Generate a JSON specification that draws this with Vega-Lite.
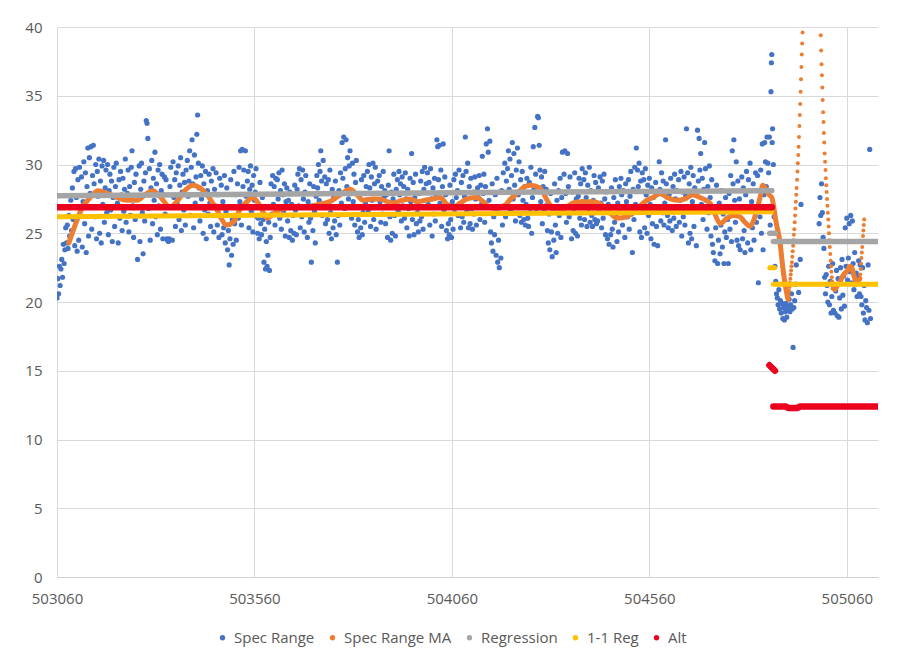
{
  "$schema": "https://vega.github.io/schema/vega-lite/v6.json",
  "width": 821,
  "height": 550,
  "autosize": {"type": "none"},
  "padding": {"left": 57, "top": 27, "right": 33, "bottom": 89},
  "background": "white",
  "config": {
    "view": {"stroke": null},
    "font": "Open Sans"
  },
  "datasets": {
    "spec": [
      {"x":503060,"y":20.3},{"x":503062,"y":21.7},{"x":503064,"y":20.6},{"x":503066,"y":22.6},{"x":503068,"y":21.2},{"x":503070,"y":22.4},{"x":503072,"y":23.1},{"x":503074,"y":21.8},{"x":503076,"y":24.2},{"x":503078,"y":22.8},{"x":503080,"y":23.8},{"x":503082,"y":25.4},{"x":503084,"y":24.3},
      {"x":503086,"y":25.6},{"x":503088,"y":23.9},{"x":503090,"y":26.3},{"x":503092,"y":24.8},{"x":503095,"y":27.4},{"x":503097,"y":25.2},{"x":503099,"y":28.3},{"x":503101,"y":26.0},{"x":503103,"y":29.5},{"x":503105,"y":24.1},{"x":503107,"y":29.7},{"x":503109,"y":27.6},
      {"x":503111,"y":23.7},{"x":503113,"y":28.9},{"x":503115,"y":24.5},{"x":503117,"y":29.8},{"x":503119,"y":26.8},{"x":503122,"y":29.1},{"x":503124,"y":24.0},{"x":503126,"y":27.3},{"x":503128,"y":30.2},{"x":503130,"y":25.7},{"x":503132,"y":29.4},{"x":503134,"y":23.6},
      {"x":503136,"y":28.4},{"x":503138,"y":31.2},{"x":503140,"y":24.8},{"x":503142,"y":30.5},{"x":503144,"y":27.9},{"x":503146,"y":31.3},{"x":503148,"y":25.3},{"x":503150,"y":29.2},{"x":503152,"y":31.4},{"x":503154,"y":28.6},{"x":503156,"y":26.2},{"x":503158,"y":30.0},{"x":503160,"y":24.6},
      {"x":503162,"y":29.5},{"x":503164,"y":27.7},{"x":503166,"y":30.4},{"x":503168,"y":25.0},{"x":503170,"y":28.8},{"x":503172,"y":24.3},{"x":503174,"y":29.9},{"x":503176,"y":27.1},{"x":503178,"y":30.3},{"x":503180,"y":25.8},{"x":503182,"y":28.3},{"x":503184,"y":29.6},{"x":503186,"y":26.5},
      {"x":503188,"y":30.0},{"x":503190,"y":24.9},{"x":503192,"y":28.1},{"x":503194,"y":29.3},{"x":503196,"y":26.7},{"x":503198,"y":28.8},{"x":503200,"y":24.4},{"x":503202,"y":27.6},{"x":503204,"y":29.8},{"x":503206,"y":25.5},{"x":503208,"y":28.4},{"x":503210,"y":30.1},
      {"x":503213,"y":27.2},{"x":503215,"y":24.3},{"x":503217,"y":28.9},{"x":503219,"y":26.1},{"x":503221,"y":29.5},{"x":503223,"y":27.8},{"x":503225,"y":25.2},{"x":503227,"y":29.0},{"x":503229,"y":26.6},{"x":503231,"y":28.2},{"x":503233,"y":30.4},{"x":503235,"y":25.8},
      {"x":503238,"y":27.9},{"x":503240,"y":29.6},{"x":503242,"y":25.1},{"x":503244,"y":28.4},{"x":503246,"y":26.3},{"x":503248,"y":29.8},{"x":503250,"y":31.0},{"x":503252,"y":27.0},{"x":503254,"y":24.7},{"x":503256,"y":28.7},{"x":503258,"y":26.0},{"x":503260,"y":29.3},
      {"x":503264,"y":23.1},{"x":503266,"y":27.5},{"x":503268,"y":29.9},{"x":503270,"y":24.4},{"x":503272,"y":28.2},{"x":503274,"y":30.1},{"x":503276,"y":26.5},{"x":503278,"y":23.5},{"x":503280,"y":28.8},{"x":503282,"y":25.9},{"x":503284,"y":29.4},{"x":503286,"y":33.2},
      {"x":503288,"y":33.0},{"x":503290,"y":31.9},{"x":503292,"y":26.8},{"x":503294,"y":29.7},{"x":503296,"y":24.5},{"x":503298,"y":28.3},{"x":503300,"y":30.3},{"x":503302,"y":25.7},{"x":503304,"y":29.0},{"x":503306,"y":27.4},{"x":503308,"y":30.9},{"x":503310,"y":26.2},{"x":503312,"y":28.6},
      {"x":503314,"y":24.9},{"x":503316,"y":29.6},{"x":503318,"y":27.0},{"x":503320,"y":30.0},{"x":503322,"y":25.3},{"x":503324,"y":28.1},{"x":503326,"y":29.3},{"x":503328,"y":24.6},{"x":503330,"y":27.8},{"x":503332,"y":29.1},{"x":503334,"y":26.4},{"x":503336,"y":28.9},{"x":503338,"y":24.6},
      {"x":503340,"y":24.5},{"x":503342,"y":24.4},{"x":503344,"y":24.6},{"x":503346,"y":28.4},{"x":503348,"y":29.8},{"x":503350,"y":26.9},{"x":503352,"y":24.5},{"x":503354,"y":30.2},{"x":503356,"y":27.6},{"x":503358,"y":28.9},{"x":503360,"y":25.5},{"x":503362,"y":29.4},
      {"x":503365,"y":27.1},{"x":503367,"y":29.9},{"x":503369,"y":26.0},{"x":503371,"y":28.5},{"x":503373,"y":30.5},{"x":503375,"y":25.2},{"x":503377,"y":28.0},{"x":503379,"y":29.3},{"x":503381,"y":26.7},{"x":503383,"y":28.7},{"x":503385,"y":25.6},{"x":503387,"y":29.6},
      {"x":503390,"y":30.3},{"x":503392,"y":27.7},{"x":503394,"y":28.8},{"x":503396,"y":31.0},{"x":503398,"y":26.3},{"x":503400,"y":29.8},{"x":503402,"y":31.8},{"x":503404,"y":28.6},{"x":503406,"y":25.4},{"x":503408,"y":30.7},{"x":503410,"y":27.2},{"x":503412,"y":29.1},{"x":503414,"y":32.2},
      {"x":503416,"y":33.6},{"x":503418,"y":30.1},{"x":503420,"y":28.3},{"x":503422,"y":25.9},{"x":503424,"y":29.2},{"x":503426,"y":27.5},{"x":503428,"y":29.9},{"x":503430,"y":25.0},{"x":503432,"y":28.6},{"x":503434,"y":26.7},{"x":503436,"y":29.5},{"x":503438,"y":24.6},
      {"x":503441,"y":28.1},{"x":503443,"y":26.4},{"x":503445,"y":29.3},{"x":503447,"y":27.2},{"x":503449,"y":25.5},{"x":503451,"y":28.8},{"x":503453,"y":26.9},{"x":503455,"y":29.7},{"x":503457,"y":25.1},{"x":503459,"y":28.2},{"x":503461,"y":27.0},{"x":503463,"y":29.4},
      {"x":503466,"y":25.6},{"x":503468,"y":27.8},{"x":503470,"y":24.7},{"x":503472,"y":29.0},{"x":503474,"y":26.2},{"x":503476,"y":28.5},{"x":503478,"y":24.9},{"x":503480,"y":27.3},{"x":503482,"y":25.4},{"x":503484,"y":29.2},{"x":503486,"y":24.3},{"x":503488,"y":26.6},{"x":503490,"y":28.3},
      {"x":503492,"y":23.8},{"x":503494,"y":25.2},{"x":503496,"y":22.7},{"x":503498,"y":24.6},{"x":503500,"y":28.9},{"x":503502,"y":23.4},{"x":503504,"y":26.0},{"x":503506,"y":24.2},{"x":503508,"y":29.5},{"x":503510,"y":25.7},{"x":503512,"y":27.8},{"x":503514,"y":24.5},
      {"x":503517,"y":28.6},{"x":503519,"y":26.1},{"x":503521,"y":29.8},{"x":503523,"y":27.3},{"x":503525,"y":31.0},{"x":503527,"y":25.6},{"x":503529,"y":31.1},{"x":503531,"y":28.4},{"x":503533,"y":29.6},{"x":503535,"y":26.9},{"x":503537,"y":31.0},{"x":503539,"y":27.7},
      {"x":503542,"y":28.8},{"x":503544,"y":29.5},{"x":503546,"y":25.4},{"x":503548,"y":28.2},{"x":503550,"y":29.9},{"x":503552,"y":26.6},{"x":503554,"y":28.5},{"x":503556,"y":25.1},{"x":503558,"y":29.2},{"x":503560,"y":27.4},{"x":503562,"y":28.0},{"x":503564,"y":29.7},{"x":503566,"y":26.2},
      {"x":503568,"y":25.0},{"x":503570,"y":26.1},{"x":503572,"y":24.6},{"x":503574,"y":28.7},{"x":503576,"y":25.7},{"x":503578,"y":24.9},{"x":503580,"y":27.6},{"x":503582,"y":26.0},{"x":503584,"y":22.9},{"x":503586,"y":25.3},{"x":503588,"y":22.4},{"x":503590,"y":24.4},
      {"x":503592,"y":22.6},{"x":503594,"y":23.4},{"x":503596,"y":25.8},{"x":503598,"y":22.3},{"x":503600,"y":24.7},{"x":503602,"y":28.6},{"x":503604,"y":26.4},{"x":503606,"y":29.2},{"x":503608,"y":27.1},{"x":503610,"y":28.4},{"x":503612,"y":25.6},{"x":503614,"y":29.0},{"x":503616,"y":26.8},
      {"x":503618,"y":28.9},{"x":503620,"y":27.5},{"x":503622,"y":29.4},{"x":503624,"y":26.1},{"x":503626,"y":28.1},{"x":503628,"y":25.3},{"x":503630,"y":29.6},{"x":503632,"y":27.8},{"x":503634,"y":26.5},{"x":503636,"y":28.6},{"x":503638,"y":24.8},{"x":503640,"y":27.3},{"x":503642,"y":28.3},
      {"x":503644,"y":25.9},{"x":503646,"y":27.4},{"x":503648,"y":24.7},{"x":503650,"y":28.0},{"x":503652,"y":25.2},{"x":503654,"y":27.1},{"x":503656,"y":24.5},{"x":503658,"y":26.3},{"x":503660,"y":25.0},{"x":503662,"y":28.5},{"x":503664,"y":26.7},{"x":503666,"y":24.9},
      {"x":503668,"y":28.2},{"x":503670,"y":29.3},{"x":503672,"y":27.0},{"x":503674,"y":29.7},{"x":503676,"y":25.4},{"x":503678,"y":28.9},{"x":503680,"y":26.2},{"x":503682,"y":29.6},{"x":503684,"y":27.5},{"x":503686,"y":25.1},{"x":503688,"y":28.0},{"x":503690,"y":29.2},{"x":503692,"y":26.9},
      {"x":503694,"y":24.7},{"x":503696,"y":27.3},{"x":503698,"y":25.8},{"x":503700,"y":28.6},{"x":503702,"y":26.1},{"x":503704,"y":22.9},{"x":503706,"y":27.0},{"x":503708,"y":25.2},{"x":503710,"y":28.4},{"x":503712,"y":26.6},{"x":503714,"y":24.3},{"x":503716,"y":27.7},{"x":503718,"y":29.2},
      {"x":503720,"y":28.3},{"x":503722,"y":30.0},{"x":503724,"y":27.4},{"x":503726,"y":29.5},{"x":503728,"y":31.0},{"x":503730,"y":28.8},{"x":503732,"y":26.3},{"x":503734,"y":30.3},{"x":503736,"y":27.9},{"x":503738,"y":29.1},{"x":503740,"y":25.7},{"x":503742,"y":28.6},
      {"x":503745,"y":26.0},{"x":503747,"y":28.9},{"x":503749,"y":25.0},{"x":503751,"y":29.6},{"x":503753,"y":26.5},{"x":503755,"y":24.6},{"x":503757,"y":28.2},{"x":503759,"y":25.4},{"x":503761,"y":27.6},{"x":503763,"y":25.9},{"x":503765,"y":28.8},{"x":503767,"y":24.9},
      {"x":503770,"y":22.9},{"x":503772,"y":26.3},{"x":503774,"y":28.1},{"x":503776,"y":25.6},{"x":503778,"y":29.4},{"x":503780,"y":27.2},{"x":503782,"y":31.6},{"x":503784,"y":29.0},{"x":503786,"y":32.0},{"x":503788,"y":26.8},{"x":503790,"y":29.7},{"x":503792,"y":31.8},{"x":503794,"y":28.4},
      {"x":503796,"y":30.5},{"x":503798,"y":27.5},{"x":503800,"y":29.9},{"x":503802,"y":31.0},{"x":503804,"y":28.0},{"x":503806,"y":26.1},{"x":503808,"y":30.1},{"x":503810,"y":27.3},{"x":503812,"y":29.3},{"x":503814,"y":25.6},{"x":503816,"y":28.7},{"x":503818,"y":30.3},
      {"x":503821,"y":25.1},{"x":503823,"y":26.0},{"x":503825,"y":24.7},{"x":503827,"y":27.8},{"x":503829,"y":25.4},{"x":503831,"y":28.9},{"x":503833,"y":24.9},{"x":503835,"y":26.5},{"x":503837,"y":29.2},{"x":503839,"y":25.8},{"x":503841,"y":27.2},{"x":503843,"y":28.4},
      {"x":503846,"y":29.5},{"x":503848,"y":26.7},{"x":503850,"y":30.0},{"x":503852,"y":28.3},{"x":503854,"y":25.5},{"x":503856,"y":29.1},{"x":503858,"y":27.4},{"x":503860,"y":30.1},{"x":503862,"y":26.0},{"x":503864,"y":28.6},{"x":503866,"y":29.8},{"x":503868,"y":25.3},{"x":503870,"y":27.9},
      {"x":503872,"y":28.8},{"x":503874,"y":26.9},{"x":503876,"y":29.2},{"x":503878,"y":27.3},{"x":503880,"y":25.8},{"x":503882,"y":28.4},{"x":503884,"y":26.4},{"x":503886,"y":29.5},{"x":503888,"y":27.6},{"x":503890,"y":28.1},{"x":503892,"y":25.7},{"x":503894,"y":27.8},
      {"x":503897,"y":24.7},{"x":503899,"y":28.5},{"x":503901,"y":31.0},{"x":503903,"y":26.2},{"x":503905,"y":24.5},{"x":503907,"y":28.0},{"x":503909,"y":25.0},{"x":503911,"y":27.5},{"x":503913,"y":29.3},{"x":503915,"y":26.3},{"x":503917,"y":24.8},{"x":503919,"y":28.2},
      {"x":503922,"y":28.9},{"x":503924,"y":26.6},{"x":503926,"y":29.5},{"x":503928,"y":27.8},{"x":503930,"y":28.6},{"x":503932,"y":25.9},{"x":503934,"y":29.1},{"x":503936,"y":27.0},{"x":503938,"y":28.4},{"x":503940,"y":26.1},{"x":503942,"y":29.4},{"x":503944,"y":27.5},{"x":503946,"y":25.4},
      {"x":503948,"y":28.2},{"x":503950,"y":26.8},{"x":503952,"y":24.8},{"x":503954,"y":29.0},{"x":503956,"y":27.3},{"x":503958,"y":30.8},{"x":503960,"y":26.0},{"x":503962,"y":28.7},{"x":503964,"y":24.9},{"x":503966,"y":27.6},{"x":503968,"y":29.3},{"x":503970,"y":25.7},
      {"x":503973,"y":26.5},{"x":503975,"y":25.1},{"x":503977,"y":27.9},{"x":503979,"y":25.9},{"x":503981,"y":28.8},{"x":503983,"y":26.2},{"x":503985,"y":29.5},{"x":503987,"y":25.3},{"x":503989,"y":28.2},{"x":503991,"y":29.8},{"x":503993,"y":26.9},{"x":503995,"y":28.6},
      {"x":503998,"y":29.4},{"x":504000,"y":27.1},{"x":504002,"y":28.7},{"x":504004,"y":25.6},{"x":504006,"y":29.7},{"x":504008,"y":27.5},{"x":504010,"y":24.8},{"x":504012,"y":28.3},{"x":504014,"y":26.4},{"x":504016,"y":29.0},{"x":504018,"y":25.9},{"x":504020,"y":27.7},{"x":504022,"y":31.8},
      {"x":504024,"y":31.3},{"x":504026,"y":28.9},{"x":504028,"y":31.4},{"x":504030,"y":27.2},{"x":504032,"y":29.6},{"x":504034,"y":25.5},{"x":504036,"y":28.4},{"x":504038,"y":31.5},{"x":504040,"y":26.7},{"x":504042,"y":29.1},{"x":504044,"y":27.8},{"x":504046,"y":25.2},
      {"x":504049,"y":24.6},{"x":504051,"y":25.7},{"x":504053,"y":24.9},{"x":504055,"y":28.5},{"x":504057,"y":26.0},{"x":504059,"y":24.7},{"x":504061,"y":27.3},{"x":504063,"y":25.3},{"x":504065,"y":28.9},{"x":504067,"y":26.5},{"x":504069,"y":29.3},{"x":504071,"y":27.6},
      {"x":504074,"y":28.1},{"x":504076,"y":26.3},{"x":504078,"y":29.6},{"x":504080,"y":27.0},{"x":504082,"y":25.4},{"x":504084,"y":28.7},{"x":504086,"y":26.2},{"x":504088,"y":29.2},{"x":504090,"y":25.8},{"x":504092,"y":27.7},{"x":504094,"y":32.0},{"x":504096,"y":29.5},{"x":504098,"y":26.6},
      {"x":504100,"y":30.1},{"x":504102,"y":25.4},{"x":504104,"y":28.4},{"x":504106,"y":25.7},{"x":504108,"y":29.0},{"x":504110,"y":26.8},{"x":504112,"y":25.3},{"x":504114,"y":28.0},{"x":504116,"y":26.4},{"x":504118,"y":29.1},{"x":504120,"y":27.5},{"x":504122,"y":25.6},
      {"x":504125,"y":28.3},{"x":504127,"y":27.6},{"x":504129,"y":29.2},{"x":504131,"y":26.0},{"x":504133,"y":28.5},{"x":504135,"y":27.1},{"x":504137,"y":30.6},{"x":504139,"y":27.9},{"x":504141,"y":29.3},{"x":504143,"y":25.8},{"x":504145,"y":28.4},{"x":504147,"y":31.5},
      {"x":504150,"y":32.6},{"x":504152,"y":30.9},{"x":504154,"y":27.4},{"x":504156,"y":31.7},{"x":504158,"y":25.1},{"x":504160,"y":24.3},{"x":504162,"y":28.6},{"x":504164,"y":23.7},{"x":504166,"y":26.2},{"x":504168,"y":24.9},{"x":504170,"y":27.8},{"x":504172,"y":23.4},{"x":504174,"y":29.0},
      {"x":504176,"y":22.9},{"x":504178,"y":24.5},{"x":504180,"y":22.5},{"x":504182,"y":26.9},{"x":504184,"y":23.2},{"x":504186,"y":28.1},{"x":504188,"y":25.6},{"x":504190,"y":29.4},{"x":504192,"y":27.0},{"x":504194,"y":30.1},{"x":504196,"y":26.2},{"x":504198,"y":28.8},
      {"x":504201,"y":29.7},{"x":504203,"y":31.0},{"x":504205,"y":28.2},{"x":504207,"y":30.4},{"x":504209,"y":26.7},{"x":504211,"y":29.2},{"x":504213,"y":31.6},{"x":504215,"y":27.5},{"x":504217,"y":30.8},{"x":504219,"y":28.5},{"x":504221,"y":25.9},{"x":504223,"y":29.6},
      {"x":504226,"y":31.2},{"x":504228,"y":27.8},{"x":504230,"y":30.2},{"x":504232,"y":26.3},{"x":504234,"y":28.9},{"x":504236,"y":25.8},{"x":504238,"y":29.5},{"x":504240,"y":27.4},{"x":504242,"y":26.0},{"x":504244,"y":28.4},{"x":504246,"y":25.6},{"x":504248,"y":27.1},{"x":504250,"y":29.0},
      {"x":504252,"y":26.1},{"x":504254,"y":25.5},{"x":504256,"y":28.7},{"x":504258,"y":26.5},{"x":504260,"y":29.8},{"x":504262,"y":25.0},{"x":504264,"y":27.6},{"x":504266,"y":31.3},{"x":504268,"y":28.2},{"x":504270,"y":32.7},{"x":504272,"y":29.3},{"x":504274,"y":26.8},
      {"x":504277,"y":33.5},{"x":504279,"y":33.4},{"x":504281,"y":31.4},{"x":504283,"y":29.6},{"x":504285,"y":27.3},{"x":504287,"y":29.1},{"x":504289,"y":25.7},{"x":504291,"y":28.4},{"x":504293,"y":26.6},{"x":504295,"y":29.5},{"x":504297,"y":27.0},{"x":504299,"y":28.2},
      {"x":504302,"y":25.2},{"x":504304,"y":24.3},{"x":504306,"y":26.4},{"x":504308,"y":23.8},{"x":504310,"y":27.9},{"x":504312,"y":25.1},{"x":504314,"y":23.3},{"x":504316,"y":26.6},{"x":504318,"y":24.5},{"x":504320,"y":28.6},{"x":504322,"y":25.6},{"x":504324,"y":23.6},{"x":504326,"y":27.4},
      {"x":504328,"y":25.0},{"x":504330,"y":28.1},{"x":504332,"y":26.3},{"x":504334,"y":29.0},{"x":504336,"y":24.7},{"x":504338,"y":27.6},{"x":504340,"y":30.9},{"x":504342,"y":26.7},{"x":504344,"y":29.3},{"x":504346,"y":31.0},{"x":504348,"y":27.9},{"x":504350,"y":25.8},
      {"x":504353,"y":30.8},{"x":504355,"y":28.4},{"x":504357,"y":26.2},{"x":504359,"y":29.1},{"x":504361,"y":27.0},{"x":504363,"y":24.6},{"x":504365,"y":28.0},{"x":504367,"y":25.2},{"x":504369,"y":26.8},{"x":504371,"y":29.4},{"x":504373,"y":25.0},{"x":504375,"y":27.5},
      {"x":504378,"y":24.8},{"x":504380,"y":27.7},{"x":504382,"y":29.0},{"x":504384,"y":26.1},{"x":504386,"y":28.6},{"x":504388,"y":25.6},{"x":504390,"y":29.7},{"x":504392,"y":27.3},{"x":504394,"y":28.9},{"x":504396,"y":26.0},{"x":504398,"y":29.4},{"x":504400,"y":27.6},{"x":504402,"y":25.5},
      {"x":504404,"y":28.5},{"x":504406,"y":26.8},{"x":504408,"y":29.8},{"x":504410,"y":25.8},{"x":504412,"y":28.1},{"x":504414,"y":26.3},{"x":504416,"y":25.5},{"x":504418,"y":27.4},{"x":504420,"y":29.2},{"x":504422,"y":26.0},{"x":504424,"y":28.7},{"x":504426,"y":25.7},
      {"x":504429,"y":25.9},{"x":504431,"y":28.3},{"x":504433,"y":26.6},{"x":504435,"y":29.1},{"x":504437,"y":27.2},{"x":504439,"y":25.4},{"x":504441,"y":28.8},{"x":504443,"y":26.1},{"x":504445,"y":29.3},{"x":504447,"y":27.5},{"x":504449,"y":24.9},{"x":504451,"y":28.0},
      {"x":504454,"y":24.6},{"x":504456,"y":27.1},{"x":504458,"y":24.2},{"x":504460,"y":26.5},{"x":504462,"y":24.9},{"x":504464,"y":28.3},{"x":504466,"y":25.3},{"x":504468,"y":24.0},{"x":504470,"y":27.6},{"x":504472,"y":25.8},{"x":504474,"y":28.9},{"x":504476,"y":26.4},{"x":504478,"y":24.4},
      {"x":504480,"y":27.2},{"x":504482,"y":25.1},{"x":504484,"y":28.4},{"x":504486,"y":26.7},{"x":504488,"y":29.0},{"x":504490,"y":27.8},{"x":504492,"y":25.6},{"x":504494,"y":28.1},{"x":504496,"y":26.9},{"x":504498,"y":24.7},{"x":504500,"y":28.6},{"x":504502,"y":27.3},
      {"x":504505,"y":26.2},{"x":504507,"y":28.9},{"x":504509,"y":25.3},{"x":504511,"y":27.7},{"x":504513,"y":29.5},{"x":504515,"y":26.4},{"x":504517,"y":23.6},{"x":504519,"y":28.2},{"x":504521,"y":26.0},{"x":504523,"y":29.8},{"x":504525,"y":27.1},{"x":504527,"y":31.2},
      {"x":504530,"y":29.6},{"x":504532,"y":28.4},{"x":504534,"y":30.1},{"x":504536,"y":25.1},{"x":504538,"y":28.8},{"x":504540,"y":24.7},{"x":504542,"y":29.4},{"x":504544,"y":26.6},{"x":504546,"y":28.9},{"x":504548,"y":25.4},{"x":504550,"y":29.7},{"x":504552,"y":27.8},{"x":504554,"y":25.0},
      {"x":504556,"y":28.5},{"x":504558,"y":26.3},{"x":504560,"y":29.0},{"x":504562,"y":27.1},{"x":504564,"y":24.6},{"x":504566,"y":28.3},{"x":504568,"y":25.7},{"x":504570,"y":27.6},{"x":504572,"y":24.2},{"x":504574,"y":26.8},{"x":504576,"y":28.7},{"x":504578,"y":25.5},
      {"x":504581,"y":24.1},{"x":504583,"y":27.9},{"x":504585,"y":30.2},{"x":504587,"y":28.2},{"x":504589,"y":25.9},{"x":504591,"y":29.4},{"x":504593,"y":26.5},{"x":504595,"y":28.8},{"x":504597,"y":25.6},{"x":504599,"y":27.2},{"x":504601,"y":31.8},{"x":504603,"y":28.6},
      {"x":504606,"y":26.3},{"x":504608,"y":25.4},{"x":504610,"y":27.8},{"x":504612,"y":25.9},{"x":504614,"y":29.0},{"x":504616,"y":26.7},{"x":504618,"y":25.2},{"x":504620,"y":28.4},{"x":504622,"y":26.1},{"x":504624,"y":29.3},{"x":504626,"y":27.5},{"x":504628,"y":25.5},{"x":504630,"y":28.1},
      {"x":504632,"y":26.6},{"x":504634,"y":28.9},{"x":504636,"y":25.8},{"x":504638,"y":27.4},{"x":504640,"y":29.5},{"x":504642,"y":24.8},{"x":504644,"y":28.0},{"x":504646,"y":26.2},{"x":504648,"y":29.1},{"x":504650,"y":25.6},{"x":504652,"y":27.7},{"x":504654,"y":32.6},
      {"x":504657,"y":29.4},{"x":504659,"y":24.3},{"x":504661,"y":28.6},{"x":504663,"y":25.0},{"x":504665,"y":29.8},{"x":504667,"y":24.6},{"x":504669,"y":27.3},{"x":504671,"y":29.2},{"x":504673,"y":25.5},{"x":504675,"y":28.3},{"x":504677,"y":26.6},{"x":504679,"y":24.1},
      {"x":504682,"y":32.5},{"x":504684,"y":28.8},{"x":504686,"y":31.9},{"x":504688,"y":29.6},{"x":504690,"y":30.8},{"x":504692,"y":27.1},{"x":504694,"y":29.0},{"x":504696,"y":26.0},{"x":504698,"y":28.2},{"x":504700,"y":31.6},{"x":504702,"y":29.7},{"x":504704,"y":27.4},{"x":504706,"y":25.3},
      {"x":504708,"y":28.4},{"x":504710,"y":26.5},{"x":504712,"y":29.9},{"x":504714,"y":27.6},{"x":504716,"y":24.8},{"x":504718,"y":28.9},{"x":504720,"y":24.2},{"x":504722,"y":23.6},{"x":504724,"y":26.9},{"x":504726,"y":23.0},{"x":504728,"y":25.4},{"x":504730,"y":28.5},
      {"x":504733,"y":22.8},{"x":504735,"y":24.5},{"x":504737,"y":27.2},{"x":504739,"y":23.5},{"x":504741,"y":25.6},{"x":504743,"y":28.1},{"x":504745,"y":24.0},{"x":504747,"y":26.4},{"x":504749,"y":22.8},{"x":504751,"y":25.1},{"x":504753,"y":27.6},{"x":504755,"y":24.7},
      {"x":504758,"y":26.0},{"x":504760,"y":22.8},{"x":504762,"y":27.9},{"x":504764,"y":25.3},{"x":504766,"y":29.2},{"x":504768,"y":24.4},{"x":504770,"y":31.0},{"x":504772,"y":28.6},{"x":504774,"y":31.8},{"x":504776,"y":27.4},{"x":504778,"y":25.8},{"x":504780,"y":30.2},{"x":504782,"y":24.5},
      {"x":504784,"y":28.8},{"x":504786,"y":24.1},{"x":504788,"y":27.5},{"x":504790,"y":23.8},{"x":504792,"y":26.6},{"x":504794,"y":29.1},{"x":504796,"y":24.6},{"x":504798,"y":28.3},{"x":504800,"y":25.2},{"x":504802,"y":23.6},{"x":504804,"y":27.8},{"x":504806,"y":29.5},
      {"x":504809,"y":24.3},{"x":504811,"y":28.9},{"x":504813,"y":26.7},{"x":504815,"y":30.1},{"x":504817,"y":23.8},{"x":504819,"y":27.3},{"x":504821,"y":25.4},{"x":504823,"y":28.6},{"x":504825,"y":24.5},{"x":504827,"y":26.9},{"x":504829,"y":29.4},{"x":504831,"y":25.8},
      {"x":504834,"y":29.2},{"x":504836,"y":21.4},{"x":504838,"y":28.1},{"x":504840,"y":26.2},{"x":504842,"y":29.6},{"x":504844,"y":25.0},{"x":504846,"y":31.5},{"x":504848,"y":23.8},{"x":504850,"y":27.8},{"x":504852,"y":31.6},{"x":504854,"y":30.2},{"x":504856,"y":28.4},{"x":504858,"y":32.0},
      {"x":504860,"y":30.1},{"x":504862,"y":29.4},{"x":504864,"y":32.0},{"x":504866,"y":25.6},{"x":504868,"y":35.3},{"x":504869,"y":37.4},{"x":504870,"y":38.0},{"x":504871,"y":31.6},{"x":504872,"y":32.6},{"x":504874,"y":30.0},{"x":504876,"y":26.2},{"x":504878,"y":22.6},{"x":504880,"y":21.5},{"x":504882,"y":20.6},
      {"x":504884,"y":20.3},{"x":504886,"y":19.8},{"x":504888,"y":20.9},{"x":504890,"y":19.5},{"x":504892,"y":20.1},{"x":504894,"y":19.2},{"x":504896,"y":19.9},{"x":504898,"y":18.8},{"x":504900,"y":19.6},{"x":504902,"y":18.7},{"x":504904,"y":19.3},{"x":504906,"y":19.9},{"x":504908,"y":18.9},
      {"x":504910,"y":19.4},{"x":504912,"y":19.7},{"x":504914,"y":20.2},{"x":504916,"y":19.3},{"x":504918,"y":19.8},{"x":504920,"y":20.6},{"x":504922,"y":19.5},{"x":504924,"y":16.7},{"x":504926,"y":19.6},{"x":504928,"y":20.1},{"x":504930,"y":21.3},{"x":504932,"y":22.7},
      {"x":504938,"y":20.7},{"x":504942,"y":23.1},{"x":504944,"y":27.1},
      {"x":504990,"y":25.7},{"x":504992,"y":27.6},{"x":504994,"y":26.3},{"x":504996,"y":28.6},{"x":504998,"y":26.5},{"x":505000,"y":24.7},{"x":505002,"y":23.9},{"x":505004,"y":21.8},{"x":505006,"y":20.6},{"x":505008,"y":22.0},{"x":505010,"y":21.2},{"x":505012,"y":20.0},{"x":505014,"y":22.6},{"x":505016,"y":19.8},{"x":505018,"y":21.5},{"x":505020,"y":19.2},{"x":505022,"y":20.4},{"x":505024,"y":22.8},{"x":505026,"y":19.4},
      {"x":505028,"y":21.1},{"x":505030,"y":19.2},{"x":505032,"y":20.8},{"x":505034,"y":22.3},{"x":505036,"y":19.0},{"x":505038,"y":21.7},{"x":505040,"y":18.9},{"x":505042,"y":20.3},{"x":505044,"y":22.5},{"x":505046,"y":19.5},{"x":505048,"y":23.1},{"x":505050,"y":20.5},{"x":505052,"y":21.9},{"x":505054,"y":19.7},{"x":505056,"y":25.4},{"x":505058,"y":22.6},{"x":505060,"y":26.1},{"x":505062,"y":21.6},{"x":505064,"y":23.2},
      {"x":505066,"y":25.7},{"x":505068,"y":22.2},{"x":505070,"y":26.3},{"x":505072,"y":21.4},{"x":505074,"y":25.9},{"x":505076,"y":22.8},{"x":505078,"y":20.9},{"x":505080,"y":23.6},{"x":505082,"y":21.3},{"x":505084,"y":22.1},{"x":505086,"y":20.4},{"x":505088,"y":21.8},{"x":505090,"y":23.0},{"x":505092,"y":20.6},{"x":505094,"y":22.7},
      {"x":505096,"y":20.4},{"x":505098,"y":19.8},{"x":505100,"y":22.5},{"x":505102,"y":19.2},{"x":505104,"y":21.2},{"x":505106,"y":18.7},{"x":505108,"y":20.1},{"x":505110,"y":19.6},{"x":505112,"y":18.5},{"x":505114,"y":22.7},{"x":505116,"y":19.4},{"x":505118,"y":31.1},{"x":505120,"y":18.8}
    ],
    "ma": [
      {"seg":"a","x":503090,"y":24.3},{"seg":"a","x":503106,"y":25.6},{"seg":"a","x":503123,"y":26.8},{"seg":"a","x":503144,"y":27.6},{"seg":"a","x":503164,"y":28.1},{"seg":"a","x":503187,"y":27.9},{"seg":"a","x":503212,"y":27.6},{"seg":"a","x":503237,"y":27.4},{"seg":"a","x":503263,"y":27.4},{"seg":"a","x":503283,"y":27.8},{"seg":"a","x":503303,"y":28.1},{"seg":"a","x":503323,"y":27.6},{"seg":"a","x":503346,"y":26.9},{"seg":"a","x":503366,"y":27.4},{"seg":"a","x":503387,"y":28.2},{"seg":"a","x":503404,"y":28.5},{"seg":"a","x":503422,"y":28.3},{"seg":"a","x":503440,"y":27.8},{"seg":"a","x":503465,"y":26.7},{"seg":"a","x":503490,"y":25.6},{"seg":"a","x":503506,"y":25.8},{"seg":"a","x":503523,"y":26.7},{"seg":"a","x":503541,"y":27.3},{"seg":"a","x":503556,"y":27.6},{"seg":"a","x":503574,"y":27.0},{"seg":"a","x":503592,"y":26.1},{"seg":"a","x":503612,"y":26.5},{"seg":"a","x":503632,"y":26.8},{"seg":"a","x":503663,"y":26.9},{"seg":"a","x":503693,"y":26.9},{"seg":"a","x":503721,"y":27.1},{"seg":"a","x":503751,"y":27.3},{"seg":"a","x":503777,"y":27.8},{"seg":"a","x":503802,"y":28.2},{"seg":"a","x":503820,"y":27.8},{"seg":"a","x":503835,"y":27.4},{"seg":"a","x":503858,"y":27.5},{"seg":"a","x":503878,"y":27.5},{"seg":"a","x":503896,"y":27.3},{"seg":"a","x":503911,"y":27.2},{"seg":"a","x":503934,"y":27.4},{"seg":"a","x":503954,"y":27.5},{"seg":"a","x":503972,"y":27.3},{"seg":"a","x":503992,"y":27.4},{"seg":"a","x":504012,"y":27.5},{"seg":"a","x":504030,"y":27.6},{"seg":"a","x":504048,"y":27.1},{"seg":"a","x":504063,"y":26.9},{"seg":"a","x":504081,"y":27.2},{"seg":"a","x":504098,"y":27.5},{"seg":"a","x":504123,"y":27.6},{"seg":"a","x":504139,"y":27.3},{"seg":"a","x":504156,"y":26.9},{"seg":"a","x":504174,"y":26.8},{"seg":"a","x":504194,"y":27.0},{"seg":"a","x":504209,"y":27.5},{"seg":"a","x":504225,"y":27.9},{"seg":"a","x":504240,"y":28.3},{"seg":"a","x":504258,"y":28.5},{"seg":"a","x":504283,"y":28.3},{"seg":"a","x":504303,"y":27.3},{"seg":"a","x":504326,"y":26.5},{"seg":"a","x":504346,"y":26.8},{"seg":"a","x":504367,"y":27.2},{"seg":"a","x":504392,"y":27.3},{"seg":"a","x":504417,"y":27.3},{"seg":"a","x":504443,"y":27.0},{"seg":"a","x":504460,"y":26.5},{"seg":"a","x":504478,"y":26.1},{"seg":"a","x":504503,"y":26.2},{"seg":"a","x":504529,"y":26.8},{"seg":"a","x":504554,"y":27.4},{"seg":"a","x":504569,"y":27.6},{"seg":"a","x":504587,"y":27.9},{"seg":"a","x":504605,"y":27.6},{"seg":"a","x":504630,"y":27.4},{"seg":"a","x":504650,"y":27.5},{"seg":"a","x":504670,"y":27.8},{"seg":"a","x":504688,"y":27.6},{"seg":"a","x":504713,"y":27.2},{"seg":"a","x":504726,"y":26.4},{"seg":"a","x":504739,"y":25.7},{"seg":"a","x":504757,"y":26.1},{"seg":"a","x":504772,"y":26.3},{"seg":"a","x":504789,"y":26.2},{"seg":"a","x":504802,"y":25.8},{"seg":"a","x":504815,"y":25.5},{"seg":"a","x":504825,"y":26.0},{"seg":"a","x":504832,"y":26.7},{"seg":"a","x":504842,"y":27.8},{"seg":"a","x":504847,"y":28.5},{"seg":"a","x":504855,"y":28.2},{"seg":"a","x":504863,"y":27.8},{"seg":"a","x":504870,"y":27.6},{"seg":"a","x":504881,"y":25.8},{"seg":"a","x":504891,"y":24.3},{"seg":"a","x":504898,"y":22.5},{"seg":"a","x":504906,"y":20.9},{"seg":"a","x":504911,"y":20.2},
      {"seg":"c","x":505025,"y":21.0},{"seg":"c","x":505030,"y":20.9},{"seg":"c","x":505036,"y":21.2},{"seg":"c","x":505042,"y":21.4},{"seg":"c","x":505048,"y":21.8},{"seg":"c","x":505055,"y":22.1},{"seg":"c","x":505062,"y":22.3},{"seg":"c","x":505068,"y":22.6},{"seg":"c","x":505073,"y":22.5},{"seg":"c","x":505078,"y":21.9},{"seg":"c","x":505082,"y":21.6},{"seg":"c","x":505088,"y":21.5},{"seg":"c","x":505093,"y":21.7}
    ],
    "madots": [
      {"x":504912,"y":20.3},{"x":504913,"y":20.5},{"x":504914,"y":20.8},{"x":504915,"y":21.1},{"x":504916,"y":21.4},{"x":504917,"y":21.7},{"x":504918,"y":22.0},{"x":504919,"y":22.3},{"x":504920,"y":22.6},{"x":504921,"y":22.9},{"x":504922,"y":23.3},{"x":504923,"y":23.7},{"x":504924,"y":24.1},{"x":504925,"y":24.5},{"x":504926,"y":24.9},{"x":504927,"y":25.3},{"x":504928,"y":25.8},{"x":504929,"y":26.3},{"x":504930,"y":26.8},{"x":504931,"y":27.3},{"x":504932,"y":27.8},{"x":504933,"y":28.3},{"x":504934,"y":28.9},{"x":504935,"y":29.5},{"x":504936,"y":30.1},{"x":504937,"y":30.7},{"x":504938,"y":31.3},{"x":504939,"y":32.0},{"x":504940,"y":32.8},{"x":504941,"y":33.6},{"x":504942,"y":34.4},{"x":504943,"y":35.3},{"x":504944,"y":36.2},{"x":504945,"y":37.1},{"x":504946,"y":38.0},{"x":504947,"y":38.8},{"x":504948,"y":39.6},{"x":504950,"y":41.2},{"x":504956,"y":44.5},{"x":504965,"y":47.3},{"x":504974,"y":47.8},{"x":504983,"y":45.6},{"x":504990,"y":41.9},
      {"x":504994,"y":39.4},{"x":504995,"y":38.3},{"x":504996,"y":37.3},{"x":504997,"y":36.5},{"x":504998,"y":35.6},{"x":504999,"y":34.7},{"x":505000,"y":33.8},{"x":505001,"y":33.1},{"x":505002,"y":32.3},{"x":505003,"y":31.6},{"x":505004,"y":30.8},{"x":505005,"y":30.2},{"x":505006,"y":29.6},{"x":505007,"y":29.0},{"x":505008,"y":28.5},{"x":505009,"y":28.0},{"x":505010,"y":27.5},{"x":505011,"y":27.0},{"x":505012,"y":26.5},{"x":505013,"y":26.0},{"x":505014,"y":25.5},{"x":505015,"y":25.0},{"x":505016,"y":24.5},{"x":505017,"y":24.0},{"x":505018,"y":23.5},{"x":505019,"y":23.0},{"x":505020,"y":22.6},{"x":505021,"y":22.2},{"x":505022,"y":21.8},{"x":505023,"y":21.5},{"x":505024,"y":21.2},
      {"x":505094,"y":22.0},{"x":505095,"y":22.4},{"x":505096,"y":22.8},{"x":505097,"y":23.2},{"x":505098,"y":23.6},{"x":505099,"y":24.0},{"x":505100,"y":24.4},{"x":505101,"y":24.8},{"x":505102,"y":25.2},{"x":505103,"y":25.6},{"x":505104,"y":26.0}
    ],
    "reg": [
      {"seg":"a","x":503060,"y":27.72},{"seg":"a","x":504060,"y":27.95},{"seg":"a","x":504870,"y":28.1},
      {"seg":"b","x":504865,"y":25.0},{"seg":"b","x":504879,"y":25.0},
      {"seg":"c","x":504874,"y":24.4},{"seg":"c","x":505139,"y":24.4}
    ],
    "oneone": [
      {"seg":"a","x":503060,"y":26.2},{"seg":"a","x":504870,"y":26.57},
      {"seg":"b","x":504865,"y":22.5},{"seg":"b","x":504877,"y":22.5},
      {"seg":"c","x":504874,"y":21.3},{"seg":"c","x":505139,"y":21.3}
    ],
    "alt": [
      {"seg":"a","x":503060,"y":26.9},{"seg":"a","x":504870,"y":26.9},
      {"seg":"b","x":504864,"y":15.4},{"seg":"b","x":504878,"y":15.0},
      {"seg":"c","x":504874,"y":12.4},{"seg":"c","x":504905,"y":12.4},{"seg":"c","x":504912,"y":12.3},{"seg":"c","x":504935,"y":12.3},{"seg":"c","x":504942,"y":12.4},{"seg":"c","x":505139,"y":12.4}
    ]
  },
  "encoding": {
    "x": {
      "field": "x",
      "type": "quantitative",
      "scale": {"domain": [503060, 505139], "nice": false, "zero": false},
      "axis": {
        "title": null,
        "values": [503060, 503560, 504060, 504560, 505060],
        "format": "d",
        "grid": true,
        "gridColor": "#d9d9d9",
        "ticks": false,
        "domainColor": "#d0d0d0",
        "labelFlush": false,
        "labelPadding": 14,
        "labelFont": "Open Sans",
        "labelFontSize": 15,
        "labelColor": "#595959"
      }
    },
    "y": {
      "field": "y",
      "type": "quantitative",
      "scale": {"domain": [0, 40], "nice": false},
      "axis": {
        "title": null,
        "values": [0, 5, 10, 15, 20, 25, 30, 35, 40],
        "grid": true,
        "gridColor": "#d9d9d9",
        "ticks": false,
        "domainColor": "#d9d9d9",
        "labelPadding": 15,
        "labelFont": "Open Sans",
        "labelFontSize": 15,
        "labelColor": "#595959"
      }
    }
  },
  "layer": [
    {
      "data": {"name": "spec"},
      "mark": {"type": "point", "filled": true, "size": 27, "opacity": 1, "clip": true},
      "encoding": {
        "color": {
          "datum": "Spec Range",
          "type": "nominal",
          "scale": {
            "domain": ["Spec Range", "Spec Range MA", "Regression", "1-1 Reg", "Alt"],
            "range": ["#4472C4", "#ED7D31", "#A5A5A5", "#FFC000", "#EB001E"]
          },
          "legend": {
            "title": null,
            "orient": "none",
            "direction": "horizontal",
            "legendX": 158,
            "legendY": 603,
            "padding": 0,
            "symbolType": "circle",
            "symbolSize": 28,
            "symbolStrokeWidth": 0,
            "labelOffset": 4,
            "columnPadding": 10,
            "labelFont": "Open Sans",
            "labelFontSize": 15,
            "labelColor": "#595959"
          }
        }
      }
    },
    {
      "data": {"name": "ma"},
      "mark": {"type": "line", "strokeWidth": 5, "strokeCap": "round", "strokeJoin": "round", "interpolate": "monotone", "clip": true},
      "encoding": {
        "detail": {"field": "seg"},
        "color": {"datum": "Spec Range MA", "type": "nominal", "legend": null}
      }
    },
    {
      "data": {"name": "madots"},
      "mark": {"type": "point", "filled": true, "size": 16, "opacity": 1, "clip": true},
      "encoding": {
        "color": {"datum": "Spec Range MA", "type": "nominal"}
      }
    },
    {
      "data": {"name": "reg"},
      "mark": {"type": "line", "strokeWidth": 5.5, "strokeCap": "round", "clip": true},
      "encoding": {
        "detail": {"field": "seg"},
        "color": {"datum": "Regression", "type": "nominal", "legend": null}
      }
    },
    {
      "data": {"name": "oneone"},
      "mark": {"type": "line", "strokeWidth": 5, "strokeCap": "round", "clip": true},
      "encoding": {
        "detail": {"field": "seg"},
        "color": {"datum": "1-1 Reg", "type": "nominal", "legend": null}
      }
    },
    {
      "data": {"name": "alt"},
      "mark": {"type": "line", "strokeWidth": 6.5, "strokeCap": "round", "clip": true},
      "encoding": {
        "detail": {"field": "seg"},
        "color": {"datum": "Alt", "type": "nominal", "legend": null}
      }
    }
  ]
}
